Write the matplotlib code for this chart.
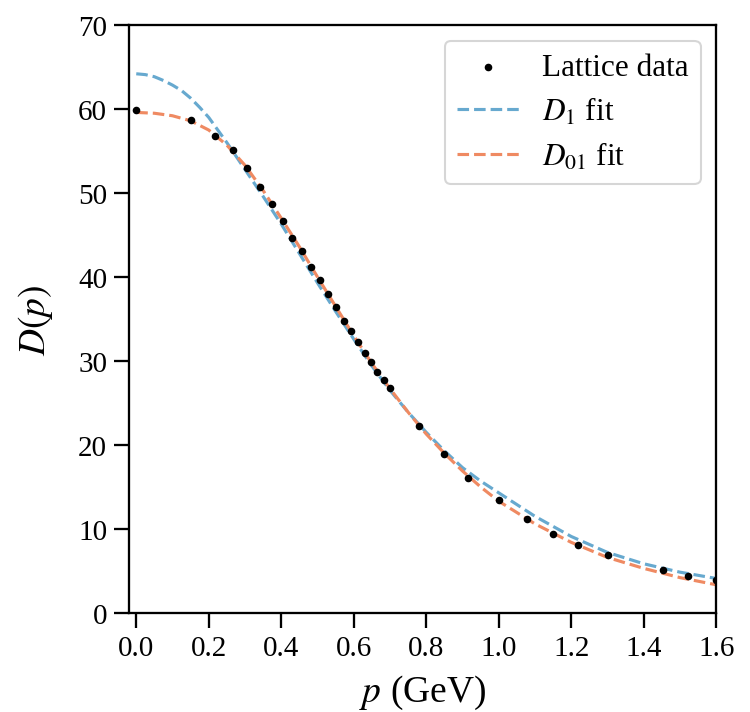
import matplotlib
matplotlib.use("Agg")
import matplotlib.pyplot as plt

plt.rcParams['font.family'] = ['Liberation Serif', 'DejaVu Serif']
plt.rcParams['mathtext.fontset'] = 'stix'

# lattice data points
p_data = [0.0, 0.152, 0.216, 0.266, 0.305, 0.342, 0.374, 0.405, 0.431, 0.457, 0.482,
          0.506, 0.529, 0.552, 0.572, 0.592, 0.611, 0.630, 0.647, 0.664, 0.684, 0.700,
          0.779, 0.850, 0.915, 1.000, 1.078, 1.151, 1.218, 1.300, 1.452, 1.521, 1.600]
D_data = [59.9, 58.65, 56.8, 55.1, 53.0, 50.75, 48.65, 46.7, 44.6, 43.06, 41.15,
          39.6, 38.0, 36.4, 34.8, 33.6, 32.3, 31.0, 29.9, 28.7, 27.7, 26.75,
          22.3, 18.9, 16.1, 13.4, 11.2, 9.4, 8.1, 6.9, 5.1, 4.4, 3.9]

# D1 fit curve
p_d1 = [0.0, 0.025, 0.05, 0.075, 0.1, 0.125, 0.15, 0.175, 0.2, 0.225, 0.25, 0.3, 0.35,
        0.4, 0.45, 0.5, 0.55, 0.6, 0.65, 0.7, 0.75, 0.8, 0.85, 0.9, 0.95, 1.0, 1.1,
        1.2, 1.3, 1.4, 1.5, 1.6]
D_d1 = [64.2, 64.1, 63.85, 63.4, 62.85, 62.2, 61.3, 60.2, 59.0, 57.5, 56.0, 52.8, 49.6,
        46.3, 42.8, 39.3, 35.9, 32.6, 29.4, 26.5, 23.9, 21.5, 19.3, 17.3, 15.7, 14.3, 11.5,
        9.1, 7.2, 5.85, 4.85, 4.1]

# D01 fit curve
p_d01 = [0.0, 0.05, 0.1, 0.15, 0.2, 0.25, 0.3, 0.35, 0.4, 0.45, 0.5, 0.55, 0.6, 0.65,
         0.7, 0.75, 0.8, 0.85, 0.9, 0.95, 1.0, 1.1, 1.2, 1.3, 1.4, 1.5, 1.6]
D_d01 = [59.6, 59.5, 59.2, 58.6, 57.5, 55.7, 53.3, 50.3, 47.0, 43.6, 40.0, 36.5, 33.0, 29.7,
         26.7, 23.9, 21.3, 19.0, 16.9, 15.0, 13.3, 10.6, 8.4, 6.6, 5.3, 4.2, 3.35]

fig = plt.figure(figsize=(5.0, 4.753), dpi=150)
ax = fig.add_axes([0.172, 0.139, 0.783, 0.8245])

ax.scatter(p_data, D_data, s=7, color='black', zorder=3, label='Lattice data')
ax.plot(p_d1, D_d1, '--', color='#67a9cf', lw=1.5, label=r'$D_1$ fit')
ax.plot(p_d01, D_d01, '--', color='#ef8a62', lw=1.5, label=r'$D_{01}$ fit')

ax.set_xlim(-0.02, 1.6)
ax.set_ylim(0, 70)
ax.set_xticks([0.0, 0.2, 0.4, 0.6, 0.8, 1.0, 1.2, 1.4, 1.6])
ax.set_yticks(range(0, 71, 10))
ax.tick_params(labelsize=14, length=7, width=1.1)
for s in ax.spines.values():
    s.set_linewidth(1.1)

ax.set_xlabel(r'$p$ (GeV)', fontsize=18, labelpad=6)
ax.set_ylabel(r'$D(p)$', fontsize=18, labelpad=11)

ax.legend(loc='upper right', fontsize=15, frameon=True, labelspacing=0.43,
          handletextpad=0.7)

fig.savefig('out.png', dpi=150)
